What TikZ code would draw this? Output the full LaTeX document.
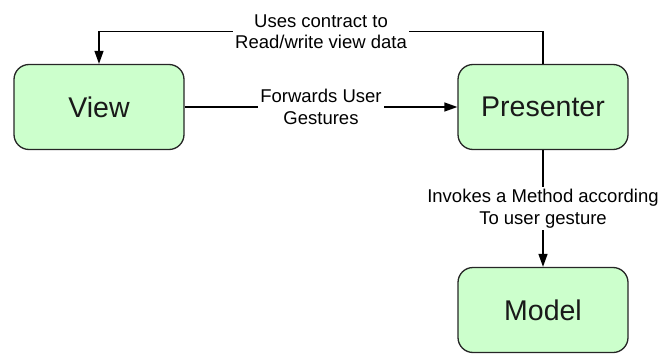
\documentclass[tikz,border=0pt]{standalone}
\usepackage{fontspec}
\setmainfont{Liberation Sans}
\usetikzlibrary{arrows.meta,positioning}

\tikzset{
  block/.style={draw=black!85,line width=1.3pt,fill=green!20!white,rounded corners=15pt,
    minimum width=170pt,minimum height=85pt,font=\fontsize{28.5}{33}\selectfont,text=black!90},
  lbl/.style={fill=white,align=center,inner sep=2pt,font=\fontsize{18.5}{21.5}\selectfont}
}

\begin{document}
\begin{tikzpicture}[x=1pt,y=1pt,>={Triangle[length=13pt,width=9pt]},line width=1.3pt,node distance=444pt]
\useasboundingbox (0,0) rectangle (663,354);

\node[block] (view) at (99,247) {View};
\node[block] (presenter) [right of=view] {Presenter};
\node[block] (model) [below of=presenter,node distance=203pt] {Model};

\draw[->] (view) -- node[lbl]{Forwards User\\Gestures} (presenter);
\draw[->] (presenter.north) -- ++(0,32) -| node[lbl,pos=0.25]{Uses contract to\\Read/write view data} (view.north);
\draw[->] (presenter) -- node[lbl]{Invokes a Method according\\To user gesture} (model);

\end{tikzpicture}
\end{document}
